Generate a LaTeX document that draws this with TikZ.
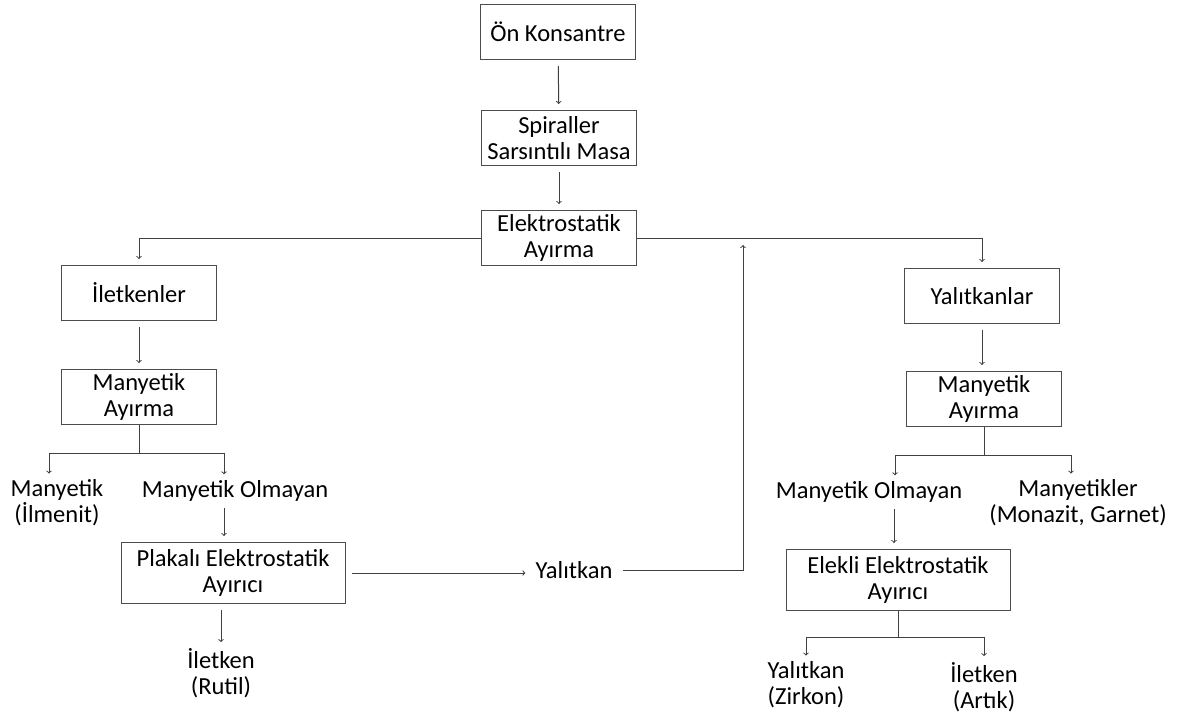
\documentclass[tikz,border=0pt]{standalone}
\usepackage{fontspec}
\setmainfont{Carlito}
\tikzset{
    flow-box/.style = {draw=black!70, fill=white, line width=1pt, rectangle, minimum width=155pt, minimum height=55pt, align=center, inner sep=2pt, font=\fontsize{24.5}{26}\selectfont},
    flow-box-wide/.style = {flow-box, minimum width=224pt, minimum height=61pt},
    flow-text/.style = {align=center, inner sep=0pt, font=\fontsize{24.5}{26}\selectfont},
    flow-line/.style = {draw=black!75, line width=1pt},
    flow-arrow/.style = {flow-line, ->, shorten >=6pt, shorten <=6pt},
}

\begin{document}
\begin{tikzpicture}[x=1pt, y=-1pt]
\fill[white] (0,0) rectangle (1179,716);
\useasboundingbox (0,0) rectangle (1179,716);

% main line
\node[flow-box] (onk) at (558,32) {Ön Konsantre};
\node[flow-box] (spir) at (559,138) {Spiraller\\Sarsıntılı Masa};
\node[flow-box] (elektro) at (559,238) {Elektrostatik\\Ayırma};

% iletkenler branch
\node[flow-box] (iletkenler) at (139,293) {İletkenler};
\node[flow-box] (manyL) at (139,397) {Manyetik\\Ayırma};
\node[flow-text] (ilmenit) at (57,503) {Manyetik\\(İlmenit)};
\node[flow-text] (molmL) at (235,491) {Manyetik Olmayan};
\node[flow-box-wide] (plakali) at (233,573) {Plakalı Elektrostatik\\Ayırıcı};
\node[flow-text] (rutil) at (221,673) {İletken\\(Rutil)};
\node[flow-text] (yalitkanM) at (574,570) {Yalıtkan};

% yalitkanlar branch
\node[flow-box] (yalitkanlar) at (982,296) {Yalıtkanlar};
\node[flow-box] (manyR) at (984,399) {Manyetik\\Ayırma};
\node[flow-text] (molmR) at (869,492) {Manyetik Olmayan};
\node[flow-text] (monazit) at (1078,503) {Manyetikler\\(Monazit, Garnet)};
\node[flow-box-wide] (elekli) at (898,580) {Elekli Elektrostatik\\Ayırıcı};
\node[flow-text] (zirkon) at (806,685) {Yalıtkan\\(Zirkon)};
\node[flow-text] (artik) at (984,687) {İletken\\(Artık)};

\coordinate (return) at (743,245);

\draw[flow-arrow] (onk) -- (spir);
\draw[flow-arrow] (spir) -- (elektro);
\draw[flow-arrow, shorten <=0pt] (elektro.west) -| (iletkenler.north);
\draw[flow-arrow, shorten <=0pt] (elektro.east) -| (yalitkanlar.north);

\draw[flow-arrow] (iletkenler) -- (manyL);
\draw[flow-line] (manyL.south) -- ++(0,28) coordinate (splitL);
\draw[flow-arrow, shorten <=0pt] (splitL) -| ([xshift=-8pt]ilmenit.north);
\draw[flow-arrow, shorten <=0pt] (splitL) -| ([xshift=-11pt]molmL.north);
\draw[flow-arrow] ([xshift=-11pt]molmL.south) -- ([xshift=-11pt]molmL.south |- plakali.north);
\draw[flow-arrow, shorten >=10pt] (plakali) -- (plakali -| yalitkanM.west);
\draw[flow-arrow, shorten <=10pt, shorten >=0pt] (yalitkanM.east) -| (return);
\draw[flow-arrow] (plakali.south -| rutil.north) -- (rutil.north);

\draw[flow-arrow] (yalitkanlar.south) -- (yalitkanlar.south |- manyR.north);
\draw[flow-line] (manyR.south) -- ++(0,28) coordinate (splitR);
\draw[flow-arrow, shorten <=0pt] (splitR) -| ([xshift=26pt]molmR.north);
\draw[flow-arrow, shorten <=0pt] (splitR) -| ([xshift=-7pt]monazit.north);
\draw[flow-arrow] ([xshift=25pt]molmR.south) -- ([xshift=25pt]molmR.south |- elekli.north);
\draw[flow-line] (elekli.south) -- ++(0,26) coordinate (splitE);
\draw[flow-arrow, shorten <=0pt] (splitE) -| (zirkon.north);
\draw[flow-arrow, shorten <=0pt] (splitE) -| (artik.north);
\end{tikzpicture}
\end{document}
